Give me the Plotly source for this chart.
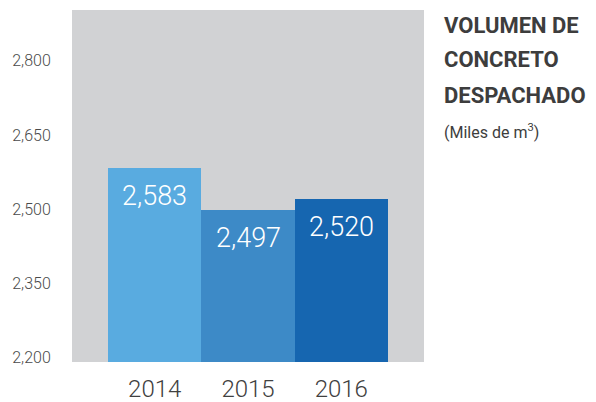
import plotly.graph_objects as go

years = ["2014", "2015", "2016"]
volumes = [2583, 2497, 2520]
bar_colors = ["#59abe0", "#3d8ac7", "#1666b0"]
y_ticks = [2200, 2350, 2500, 2650, 2800]

title_lines = ["VOLUMEN DE", "CONCRETO", "DESPACHADO"]
subtitle = "(Miles de m<sup>3</sup>)"

fig = go.Figure(
    go.Bar(
        x=years,
        y=volumes,
        marker_color=bar_colors,
        marker_line_width=0,
        width=1,
        hoverinfo="skip",
    )
)

# value labels inside the top of each bar (category index as x)
for i, value in enumerate(volumes):
    fig.add_annotation(
        x=i, y=value, text=f"{value:,}",
        showarrow=False, yshift=-28,
        font=dict(family="Roboto", size=27, color="white", weight=300),
    )

# title block on the right
title_y = [0.957, 0.858, 0.756]
for line, ty in zip(title_lines, title_y):
    fig.add_annotation(
        xref="paper", yref="paper", x=1.052, y=ty,
        xanchor="left", yanchor="middle", text=line, showarrow=False,
        font=dict(family="Roboto", size=22, color="#3d3d3d", weight=700),
    )
fig.add_annotation(
    xref="paper", yref="paper", x=1.052, y=0.656,
    xanchor="left", yanchor="middle", text=subtitle, showarrow=False,
    font=dict(family="Roboto", size=16, color="#3d3d3d"),
)

# page body adds an 8px offset, so margins are shifted to compensate
fig.update_layout(
    width=596, height=402,
    margin=dict(l=64, r=180, t=2, b=48),
    paper_bgcolor="white",
    plot_bgcolor="#d1d2d4",
    bargap=0,
    showlegend=False,
)
fig.update_xaxes(
    type="category", range=[-0.887, 2.887], automargin=False,
    showgrid=False, zeroline=False, showline=False,
    ticks="outside", ticklen=5, tickcolor="rgba(0,0,0,0)",
    tickfont=dict(family="Roboto", size=24, color="#404040", weight=300),
)
fig.update_yaxes(
    range=[2190, 2903], tickvals=y_ticks, tickformat=",", automargin=False,
    showgrid=False, zeroline=False, showline=False,
    ticks="outside", ticklen=17, tickcolor="rgba(0,0,0,0)",
    tickfont=dict(family="Roboto", size=16, color="#4a4a4a", weight=300),
)

fig.write_html("out.html")
